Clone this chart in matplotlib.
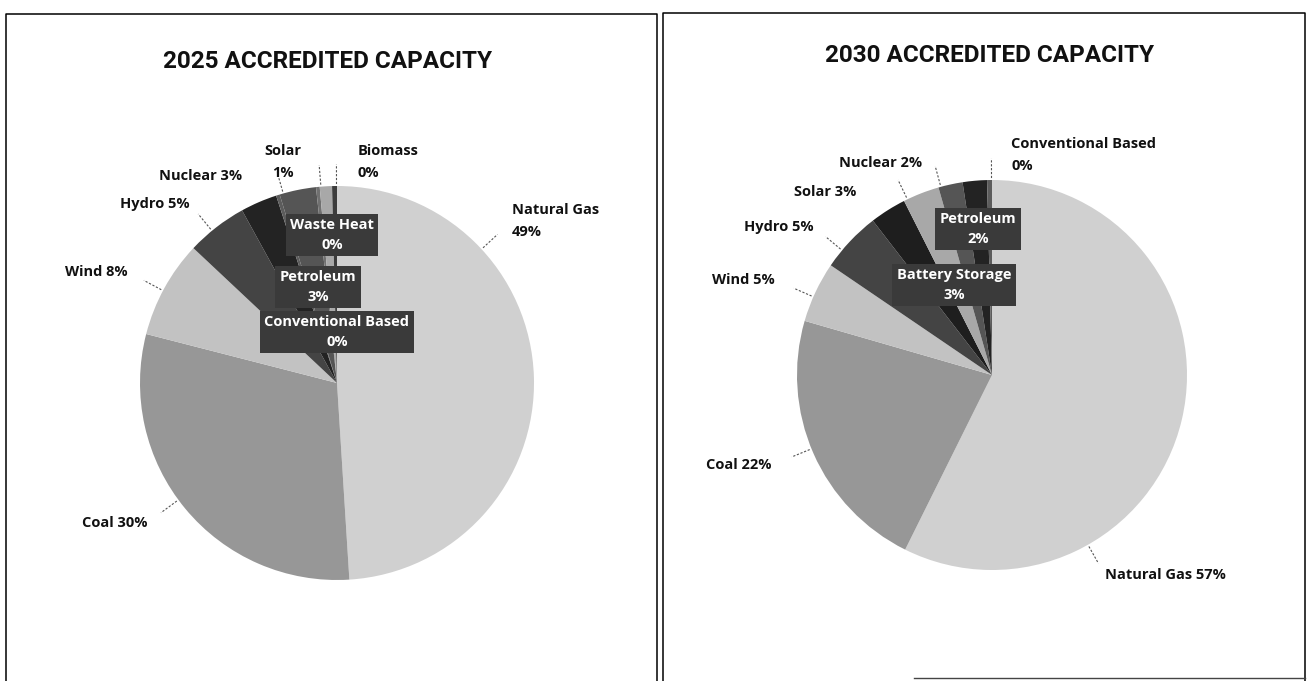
import numpy as np
import matplotlib
matplotlib.use('Agg')
import matplotlib.pyplot as plt

# accredited capacity shares (%), in the order the slices run clockwise from 12 o'clock
src_2025 = ['Natural Gas', 'Coal', 'Wind', 'Hydro', 'Petroleum', 'Conventional Based',
            'Nuclear', 'Waste Heat', 'Solar', 'Biomass']
pct_2025 = [49, 30, 8, 5, 3, 0.3, 3, 0.3, 1, 0.4]

src_2030 = ['Natural Gas', 'Coal', 'Wind', 'Hydro', 'Battery Storage', 'Solar',
            'Nuclear', 'Petroleum', 'Conventional Based']
pct_2030 = [57, 22, 5, 5, 3, 3, 2, 2, 0.4]

titles = ['2025 ACCREDITED CAPACITY', '2030 ACCREDITED CAPACITY']

greys = {'Natural Gas': '#d0d0d0', 'Coal': '#979797', 'Wind': '#c2c2c2',
         'Hydro': '#444444', 'Petroleum': '#232323', 'Conventional Based': '#5c5c5c',
         'Nuclear': '#555555', 'Waste Heat': '#707070', 'Solar': '#a8a8a8',
         'Biomass': '#3c3c3c', 'Battery Storage': '#1e1e1e'}

W, H = 1314, 681

# layout in pixels (x from left, y from top): pie centre/radius, title, labels
panels = [
    dict(src=src_2025, pct=pct_2025, title=titles[0], centre=(337, 383), r=197,
         title_xy=(328, 62), frame=(6, 14, 657),
         out={'Natural Gas': (512, 221, 'left', True), 'Solar': (283, 162, 'center', True),
              'Biomass': (358, 162, 'left', True), 'Nuclear': (242, 176, 'right', False),
              'Hydro': (190, 204, 'right', False), 'Wind': (128, 272, 'right', False),
              'Coal': (147, 523, 'right', False)},
         inner={'Waste Heat': (332, 235), 'Petroleum': (318, 287),
                'Conventional Based': (337, 332)}),
    dict(src=src_2030, pct=pct_2030, title=titles[1], centre=(992, 375), r=195,
         title_xy=(990, 55), frame=(663, 13, 1305),
         out={'Conventional Based': (1011, 155, 'left', True), 'Nuclear': (922, 163, 'right', False),
              'Solar': (856, 192, 'right', False), 'Hydro': (814, 227, 'right', False),
              'Wind': (775, 280, 'right', False), 'Coal': (772, 465, 'right', False),
              'Natural Gas': (1105, 575, 'left', False)},
         inner={'Petroleum': (978, 229), 'Battery Storage': (954, 285)}),
]

label_font = dict(family=['Open Sans', 'DejaVu Sans'], weight='bold', size=10.5)

fig = plt.figure(figsize=(W / 100, H / 100), dpi=100)
ax = fig.add_axes([0, 0, 1, 1])

for p in panels:
    cx, cy = p['centre']
    wedges, _ = ax.pie(p['pct'], colors=[greys[s] for s in p['src']], startangle=90,
                       counterclock=False, center=(cx, H - cy), radius=p['r'],
                       wedgeprops=dict(linewidth=0))
    wmap = dict(zip(p['src'], wedges))
    pct_of = dict(zip(p['src'], p['pct']))

    # outside labels with dotted leader lines
    for name, (lx, ly, ha, two_line) in p['out'].items():
        txt = f"{name}\n{round(pct_of[name])}%" if two_line else f"{name} {round(pct_of[name])}%"
        ax.text(lx, H - ly, txt, ha=ha, va='center', linespacing=1.65, color='#111111', **label_font)
        w = wmap[name]
        mid = (w.theta1 + w.theta2) / 2
        half = (w.theta2 - w.theta1) / 2
        phi = np.degrees(np.arctan2((H - ly) - (H - cy), lx - cx))
        d = (phi - mid + 180) % 360 - 180
        d = np.clip(d, -0.8 * half, 0.8 * half)
        a = np.radians(mid + d)
        r0, r1 = p['r'] * 1.01, p['r'] * 1.11
        ax.plot([cx + r0 * np.cos(a), cx + r1 * np.cos(a)],
                [H - cy + r0 * np.sin(a), H - cy + r1 * np.sin(a)],
                color='#555555', lw=0.8, ls=(0, (2, 1.5)))

    # labels sitting on the pie in dark boxes
    for name, (lx, ly) in p['inner'].items():
        ax.text(lx, H - ly, f"{name}\n{round(pct_of[name])}%", ha='center', va='center',
                linespacing=1.55, color='white',
                bbox=dict(boxstyle='square,pad=0.3', fc='#3a3a3a', ec='none'), **label_font)

    tx, ty = p['title_xy']
    ax.text(tx, H - ty, p['title'], ha='center', va='center', fontsize=17.5, fontweight='bold',
            family=['Roboto', 'DejaVu Sans'], color='#111111')

    x0, y0, x1 = p['frame']
    ax.plot([x0, x0, x1, x1], [0, H - y0, H - y0, 0], color='black', lw=1.1)

# scan edge on the right frame
ax.plot([914, 1305], [H - 678, H - 678], color='#444444', lw=1)

ax.set_xlim(0, W)
ax.set_ylim(0, H)
ax.set_aspect('equal')
ax.axis('off')
fig.savefig('out.png', dpi=100, facecolor='white')
